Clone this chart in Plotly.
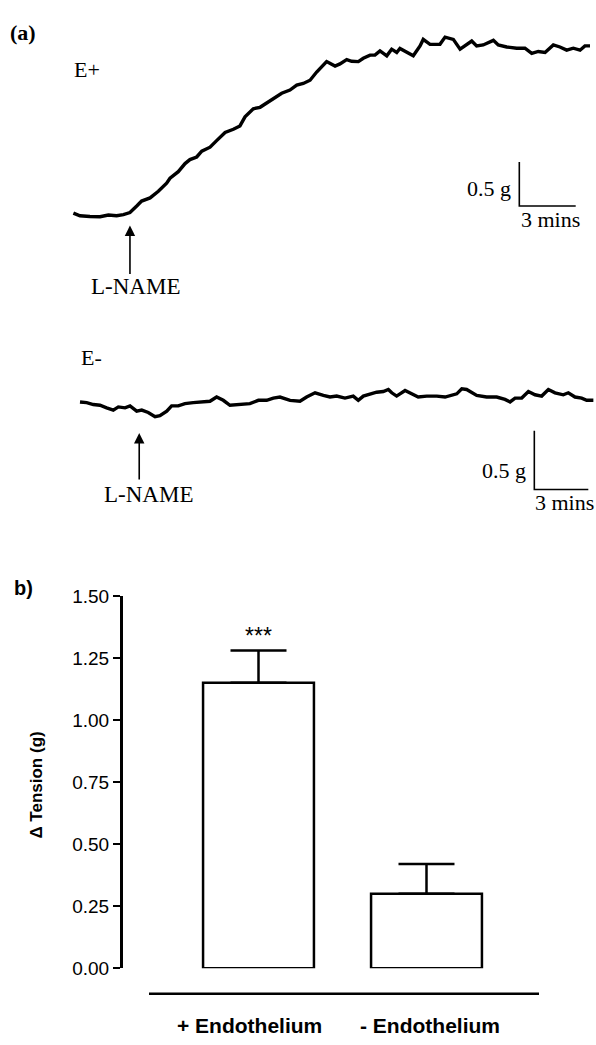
import plotly.graph_objects as go

# ---------------- data ----------------
# Panel (a) E+ trace : time (min) vs change in tension (g)
ep_time = [0.02, 0.37, 0.90, 1.44, 1.88, 2.32, 2.68, 3.03, 3.39, 3.65, 4.10, 4.54, 4.98, 5.16,
           5.60, 5.96, 6.22, 6.58, 6.85, 7.29, 7.64, 8.09, 8.53, 8.88, 9.15, 9.41, 9.59, 9.95,
           10.30, 10.65, 11.10, 11.54, 11.90, 12.25, 12.61, 12.96, 13.23, 13.49, 13.94, 14.20,
           14.56, 14.82, 15.18, 15.44, 15.80, 16.06, 16.33, 16.69, 16.95, 17.22, 17.39, 17.75,
           18.10, 18.46, 18.63, 18.99, 19.52, 19.79, 20.23, 20.59, 20.94, 21.21, 21.47, 21.82,
           22.36, 22.62, 23.07, 23.60, 24.04, 24.40, 24.75, 25.11, 25.55, 25.90, 26.26, 26.61,
           26.97, 27.23, 27.50]
ep_tension = [0.030, 0.000, -0.008, -0.011, 0.008, 0.000, 0.014, 0.037, 0.111, 0.167, 0.203,
              0.278, 0.370, 0.426, 0.500, 0.592, 0.637, 0.667, 0.733, 0.778, 0.852, 0.944, 0.981,
              1.019, 1.122, 1.178, 1.214, 1.230, 1.278, 1.333, 1.389, 1.426, 1.481, 1.500, 1.537,
              1.630, 1.686, 1.748, 1.697, 1.722, 1.770, 1.752, 1.748, 1.786, 1.822, 1.822, 1.870,
              1.814, 1.889, 1.852, 1.897, 1.859, 1.814, 1.926, 2.000, 1.944, 1.944, 2.026, 2.000,
              1.889, 1.944, 1.981, 1.926, 1.937, 1.989, 1.937, 1.914, 1.900, 1.900, 1.841, 1.863,
              1.852, 1.937, 1.914, 1.878, 1.900, 1.878, 1.926, 1.926]

# Panel (a) E- trace
em_time = [0.00, 0.37, 0.74, 1.11, 1.48, 1.85, 2.13, 2.50, 2.78, 3.15, 3.43, 3.79, 4.17, 4.44,
           4.82, 5.09, 5.46, 5.83, 6.29, 6.76, 7.22, 7.59, 7.96, 8.33, 8.89, 9.44, 9.91, 10.37,
           10.74, 11.11, 11.67, 12.22, 12.59, 13.06, 13.52, 13.89, 14.26, 14.72, 15.18, 15.46,
           15.74, 16.11, 16.48, 16.85, 17.13, 17.32, 17.59, 18.06, 18.43, 18.79, 19.26, 19.82,
           20.28, 20.65, 20.93, 21.21, 21.48, 22.04, 22.59, 23.15, 23.61, 23.89, 24.17, 24.54,
           24.91, 25.28, 25.65, 26.02, 26.39, 26.85, 27.13, 27.50, 27.87, 28.15, 28.52]
em_tension = [0.000, -0.006, -0.022, -0.028, -0.050, -0.069, -0.042, -0.050, -0.033, -0.078,
              -0.069, -0.089, -0.125, -0.117, -0.078, -0.033, -0.033, -0.014, -0.006, 0.000,
              0.006, 0.042, 0.014, -0.028, -0.022, -0.014, 0.014, 0.014, 0.033, 0.042, 0.014,
              0.006, 0.042, 0.078, 0.056, 0.042, 0.050, 0.033, 0.050, 0.014, 0.050, 0.069, 0.083,
              0.089, 0.106, 0.078, 0.050, 0.097, 0.069, 0.042, 0.050, 0.050, 0.042, 0.056, 0.069,
              0.111, 0.106, 0.056, 0.042, 0.042, 0.022, 0.000, 0.033, 0.033, 0.089, 0.061, 0.050,
              0.106, 0.078, 0.061, 0.078, 0.042, 0.033, 0.014, 0.014]

lname_time_ep = 3.03
lname_time_em = 3.29
scale_g = 0.5      # vertical scale bar (g)
scale_min = 3      # horizontal scale bar (min)

# Panel (b)
categories = ["+ Endothelium", "- Endothelium"]
delta_tension = [1.15, 0.30]
sem = [0.13, 0.12]
significance = ["***", ""]
y_ticks = [0.0, 0.25, 0.5, 0.75, 1.0, 1.25, 1.5]

# ---------------- figure ----------------
W, H = 596, 1045
SERIF = "Liberation Serif"
SANS = "Liberation Sans"


def px(x):
    return x / W


def py(y):
    return 1 - y / H


fig = go.Figure()

# bar chart (panel b)
fig.add_trace(go.Bar(
    x=categories, y=delta_tension, width=0.66,
    marker=dict(color="white", line=dict(color="black", width=2.5)),
    error_y=dict(type="data", array=sem, arrayminus=[0] * len(sem), symmetric=False,
                 width=28, thickness=2.5, color="black"),
    cliponaxis=False, xaxis="x", yaxis="y", showlegend=False,
))

# E+ trace
fig.add_trace(go.Scatter(x=ep_time, y=ep_tension, mode="lines",
                         line=dict(color="black", width=3.4, shape="linear"),
                         xaxis="x2", yaxis="y2", showlegend=False))
# E+ scale bar
c_ep = (23.74, 0.111)
fig.add_trace(go.Scatter(x=[c_ep[0], c_ep[0], c_ep[0] + scale_min],
                         y=[c_ep[1] + scale_g, c_ep[1], c_ep[1]], mode="lines",
                         line=dict(color="black", width=1.6),
                         xaxis="x2", yaxis="y2", showlegend=False))

# E- trace
fig.add_trace(go.Scatter(x=em_time, y=em_tension, mode="lines",
                         line=dict(color="black", width=3.4),
                         xaxis="x3", yaxis="y3", showlegend=False))
c_em = (25.24, -0.744)
fig.add_trace(go.Scatter(x=[c_em[0], c_em[0], c_em[0] + scale_min],
                         y=[c_em[1] + scale_g, c_em[1], c_em[1]], mode="lines",
                         line=dict(color="black", width=1.6),
                         xaxis="x3", yaxis="y3", showlegend=False))

hidden = dict(visible=False, fixedrange=True)

fig.update_layout(
    width=W, height=H, autosize=False,
    margin=dict(l=0, r=0, t=0, b=0, pad=0),
    paper_bgcolor="white", plot_bgcolor="rgba(0,0,0,0)",
    font=dict(family=SANS, color="black"),
    # bar chart axes
    xaxis=dict(domain=[px(122.7), px(560)], range=[-0.8083, 1.7946], type="category",
               showline=False, showticklabels=False, ticks="", showgrid=False,
               zeroline=False, fixedrange=True),
    yaxis=dict(domain=[py(978), py(598)], range=[0, 1.5], showline=True, linewidth=2.5,
               linecolor="black", ticks="outside", ticklen=7, tickwidth=2, tickcolor="black",
               tickvals=y_ticks, tickformat=".2f", showgrid=False, zeroline=False,
               tickfont=dict(family=SANS, size=19, color="black"), fixedrange=True),
    # E+ axes
    xaxis2=dict(domain=[0, 1], range=[-73 / 18.8, 523 / 18.8], anchor="y2", **hidden),
    yaxis2=dict(domain=[py(300), 1], range=[-1.0, 210 / 90], anchor="x2", **hidden),
    # E- axes
    xaxis3=dict(domain=[0, 1], range=[-80 / 18, 516 / 18], anchor="y3", **hidden),
    yaxis3=dict(domain=[py(540), py(320)], range=[-140 / 120, 80 / 120], anchor="x3", **hidden),
)

ann = []


def text(t, x, y, size, family=SERIF, bold=False, xanchor="center", angle=0):
    ann.append(dict(text=("<b>%s</b>" % t) if bold else t, x=px(x), y=py(y),
                    xref="paper", yref="paper", xanchor=xanchor, yanchor="middle",
                    showarrow=False, textangle=angle,
                    font=dict(family=family, size=size, color="black")))


# panel (a) texts
text("(a)", 23, 22.5, 22, bold=True)
text("E+", 86.5, 61, 22)
text("E-", 91.5, 355, 22)
text("L-NAME", 135, 282.5, 23)
text("L-NAME", 148, 494, 23)
text("0.5 g", 513, 182.5, 22, xanchor="right")
text("3 mins", 550, 214, 22)
text("0.5 g", 528, 470, 22, xanchor="right")
text("3 mins", 564, 502.5, 22)

# arrows at L-NAME addition
ann.append(dict(x=lname_time_ep, y=(210 - 220) / 90, xref="x2", yref="y2", ax=0, ay=50,
                showarrow=True, arrowhead=2, arrowsize=1.3, arrowwidth=1.6,
                arrowcolor="black", text=""))
ann.append(dict(x=lname_time_em, y=(400 - 431.7) / 120, xref="x3", yref="y3", ax=0, ay=48,
                showarrow=True, arrowhead=2, arrowsize=1.3, arrowwidth=1.6,
                arrowcolor="black", text=""))

# panel (b) texts
text("b)", 23, 590, 20, family=SANS, bold=True)
text("\u0394 Tension (g)", 36.5, 791, 17, family=SANS, bold=True, angle=-90)

for cat, v, e, s in zip(categories, delta_tension, sem, significance):
    if s:
        ann.append(dict(x=cat, y=v + e, xref="x", yref="y", yanchor="bottom", showarrow=False,
                        text=s, yshift=0, font=dict(family=SANS, size=23, color="black")))

shifts = [-9.5, 3]
for cat, sh in zip(categories, shifts):
    ann.append(dict(x=cat, y=py(1036), xref="x", yref="paper", xshift=sh, yanchor="middle",
                    showarrow=False, text="<b>%s</b>" % cat,
                    font=dict(family=SANS, size=21, color="black")))

fig.update_layout(annotations=ann)

fig.add_shape(type="line", xref="paper", yref="paper", x0=px(149), x1=px(539),
              y0=py(1004), y1=py(1004), line=dict(color="black", width=2.5))

fig.write_html("out.html")
